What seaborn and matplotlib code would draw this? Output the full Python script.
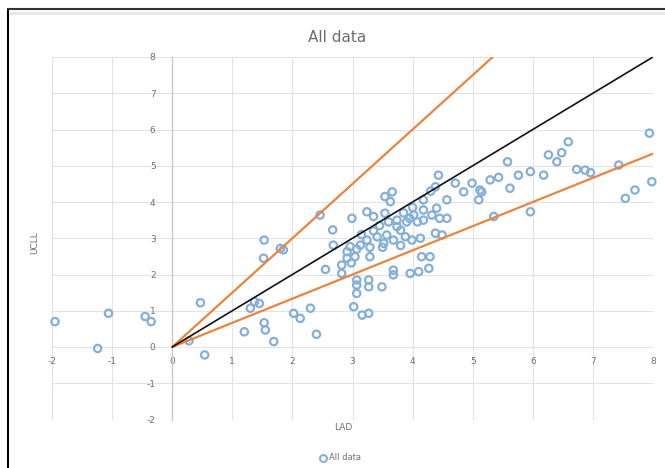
import matplotlib
matplotlib.use("Agg")
import matplotlib.pyplot as plt
import seaborn as sns
import pandas as pd
from matplotlib.lines import Line2D

# ---- data ----
lad = [-1.95, -1.06, -0.45, -0.35, -1.24,
       0.47, 0.54, 0.28,
       1.20, 1.53, 1.55, 1.69, 1.37, 1.30, 1.45,
       2.02, 2.13, 2.30, 2.40,
       1.53, 1.52, 1.80, 1.85, 2.46, 2.55,
       2.99, 3.24, 3.35, 2.67, 2.68, 3.54, 3.66, 3.63, 3.54, 3.74, 3.90,
       4.43, 4.38, 4.30, 4.18, 4.57, 4.71, 4.85, 4.99, 5.15, 5.10, 5.29,
       4.40, 4.32, 4.18, 4.02, 4.08, 4.18, 3.74, 3.80, 3.57, 3.41, 3.24,
       3.13, 2.96, 3.07, 2.91, 3.04, 3.29, 2.91, 2.82, 2.98, 3.29, 3.52,
       3.68, 3.88, 3.99, 4.13, 4.38, 4.49, 4.15, 4.29, 3.68, 3.68, 3.96,
       4.10, 4.27, 2.82, 3.07, 3.27, 3.07, 3.27, 3.49, 3.07, 3.02, 3.16,
       3.27, 4.57, 4.45, 4.00, 3.85, 3.95, 3.45, 3.60, 3.35, 3.15, 3.50,
       3.80,
       5.12, 5.35, 5.43, 5.58, 5.62, 5.76, 5.96, 6.18, 5.96, 6.26, 6.40,
       6.48, 6.59, 6.73, 6.87, 6.96, 7.43, 7.54, 7.70, 7.94, 7.98]
lcx = [0.70, 0.93, 0.84, 0.70, -0.04,
       1.22, -0.22, 0.17,
       0.42, 0.67, 0.47, 0.15, 1.25, 1.07, 1.20,
       0.93, 0.79, 1.07, 0.35,
       2.95, 2.45, 2.72, 2.68, 3.64, 2.14,
       3.55, 3.73, 3.60, 3.23, 2.81, 4.15, 4.28, 4.01, 3.69, 3.50, 3.45,
       4.74, 4.42, 4.30, 4.06, 4.06, 4.52, 4.28, 4.52, 4.28, 4.06, 4.61,
       3.83, 3.64, 3.78, 3.64, 3.45, 3.50, 3.32, 3.22, 3.09, 3.04, 2.95,
       2.81, 2.77, 2.70, 2.63, 2.49, 2.49, 2.45, 2.26, 2.32, 2.75, 2.86,
       2.95, 3.04, 2.95, 3.00, 3.14, 3.09, 2.49, 2.49, 2.12, 1.99, 2.03,
       2.08, 2.17, 2.03, 1.85, 1.85, 1.71, 1.66, 1.66, 1.48, 1.11, 0.88,
       0.93, 3.55, 3.55, 3.85, 3.70, 3.55, 3.35, 3.45, 3.20, 3.10, 2.75,
       2.80,
       4.33, 3.60, 4.68, 5.11, 4.38, 4.74, 4.84, 4.74, 3.73, 5.30, 5.11,
       5.36, 5.66, 4.90, 4.88, 4.81, 5.02, 4.10, 4.33, 5.90, 4.56]

upper_x = [0, 5.333]
upper_y = [0, 8]
ident_x = [0, 8]
ident_y = [0, 8]
lower_x = [0, 8]
lower_y = [0, 5.333]

xticks = [-2, -1, 0, 1, 2, 3, 4, 5, 6, 7, 8]
yticks = [-2, -1, 0, 1, 2, 3, 4, 5, 6, 7, 8]

title = "All data"
xlabel = "LAD"
ylabel = "UCLL"
legend_label = "All data"

# ---- plot ----
sns.set_style("white")
plt.rcParams['font.family'] = ['DejaVu Sans']

W, H = 665, 468
fig = plt.figure(figsize=(W / 100, H / 100), dpi=100)
fig.patch.set_facecolor("white")

left, right = 52 / W, 653 / W
top, bottom = 1 - 57 / H, 1 - 419.5 / H
ax = fig.add_axes([left, bottom, right - left, top - bottom])

df = pd.DataFrame({"LAD": lad, "LCX": lcx})
blue = "#86AFD8"
orange = "#E8843F"
grey_txt = "#6f6f6f"

sns.scatterplot(data=df, x="LAD", y="LCX", ax=ax, marker="o", s=28,
                facecolors="none", edgecolor=blue, linewidth=1.6,
                zorder=3, clip_on=False, legend=False)

lines = pd.DataFrame({
    "x": upper_x + ident_x + lower_x,
    "y": upper_y + ident_y + lower_y,
    "g": ["u", "u", "i", "i", "l", "l"],
})
for g, col, lw in [("u", orange, 1.6), ("l", orange, 1.6), ("i", "#111111", 1.2)]:
    sub = lines[lines.g == g]
    sns.lineplot(data=sub, x="x", y="y", ax=ax, color=col, linewidth=lw,
                 zorder=4, legend=False, sort=False, estimator=None)

ax.set_xlim(-2, 8)
ax.set_ylim(-2, 8)
ax.set_xticks(xticks)
ax.set_yticks(yticks)
ax.set_xticklabels([str(t) for t in xticks])
ax.set_yticklabels([str(t) for t in yticks])
ax.grid(True, color="#e3e3e3", linewidth=0.8, zorder=0)
ax.set_axisbelow(True)

for s in ["top", "right"]:
    ax.spines[s].set_visible(False)
ax.spines["left"].set_position(("data", 0))
ax.spines["left"].set_color("#c8c8c8")
ax.spines["left"].set_linewidth(0.9)
ax.spines["bottom"].set_position(("data", 0))
ax.spines["bottom"].set_visible(False)
ax.tick_params(axis="both", colors=grey_txt, labelsize=6.5, length=0, pad=7)
ax.tick_params(axis="y", length=3, color="#c8c8c8", pad=9)

ax.set_xlabel("")
ax.set_ylabel("")

fig.text(337 / W, 1 - 37 / H, title, ha="center", va="center",
         fontsize=11, color=grey_txt)
fig.text(343 / W, 1 - 428 / H, xlabel, ha="center", va="center",
         fontsize=6.5, color=grey_txt)
fig.text(35 / W, 1 - 243 / H, ylabel, ha="center", va="center",
         fontsize=6.5, color=grey_txt, rotation=90)

handle = Line2D([], [], marker="o", linestyle="none", markersize=5,
                markerfacecolor="none", markeredgecolor=blue, markeredgewidth=1.5)
fig.legend([handle], [legend_label], loc="center", bbox_to_anchor=(340 / W, 1 - 458 / H),
           frameon=False, fontsize=6, labelcolor=grey_txt, handletextpad=0.2,
           handlelength=1.0)

# chart frame (dark border on top and left)
fig.add_artist(Line2D([8 / W, 8 / W], [0, 1 - 9 / H], color="black", linewidth=1.5,
                      transform=fig.transFigure))
fig.add_artist(Line2D([8 / W, 1], [1 - 9 / H, 1 - 9 / H], color="#333333", linewidth=1.5,
                      transform=fig.transFigure))
fig.add_artist(Line2D([10 / W, 1], [1 - 13 / H, 1 - 13 / H], color="#e6e6e6", linewidth=2,
                      transform=fig.transFigure))

fig.savefig("out.png", dpi=100)
